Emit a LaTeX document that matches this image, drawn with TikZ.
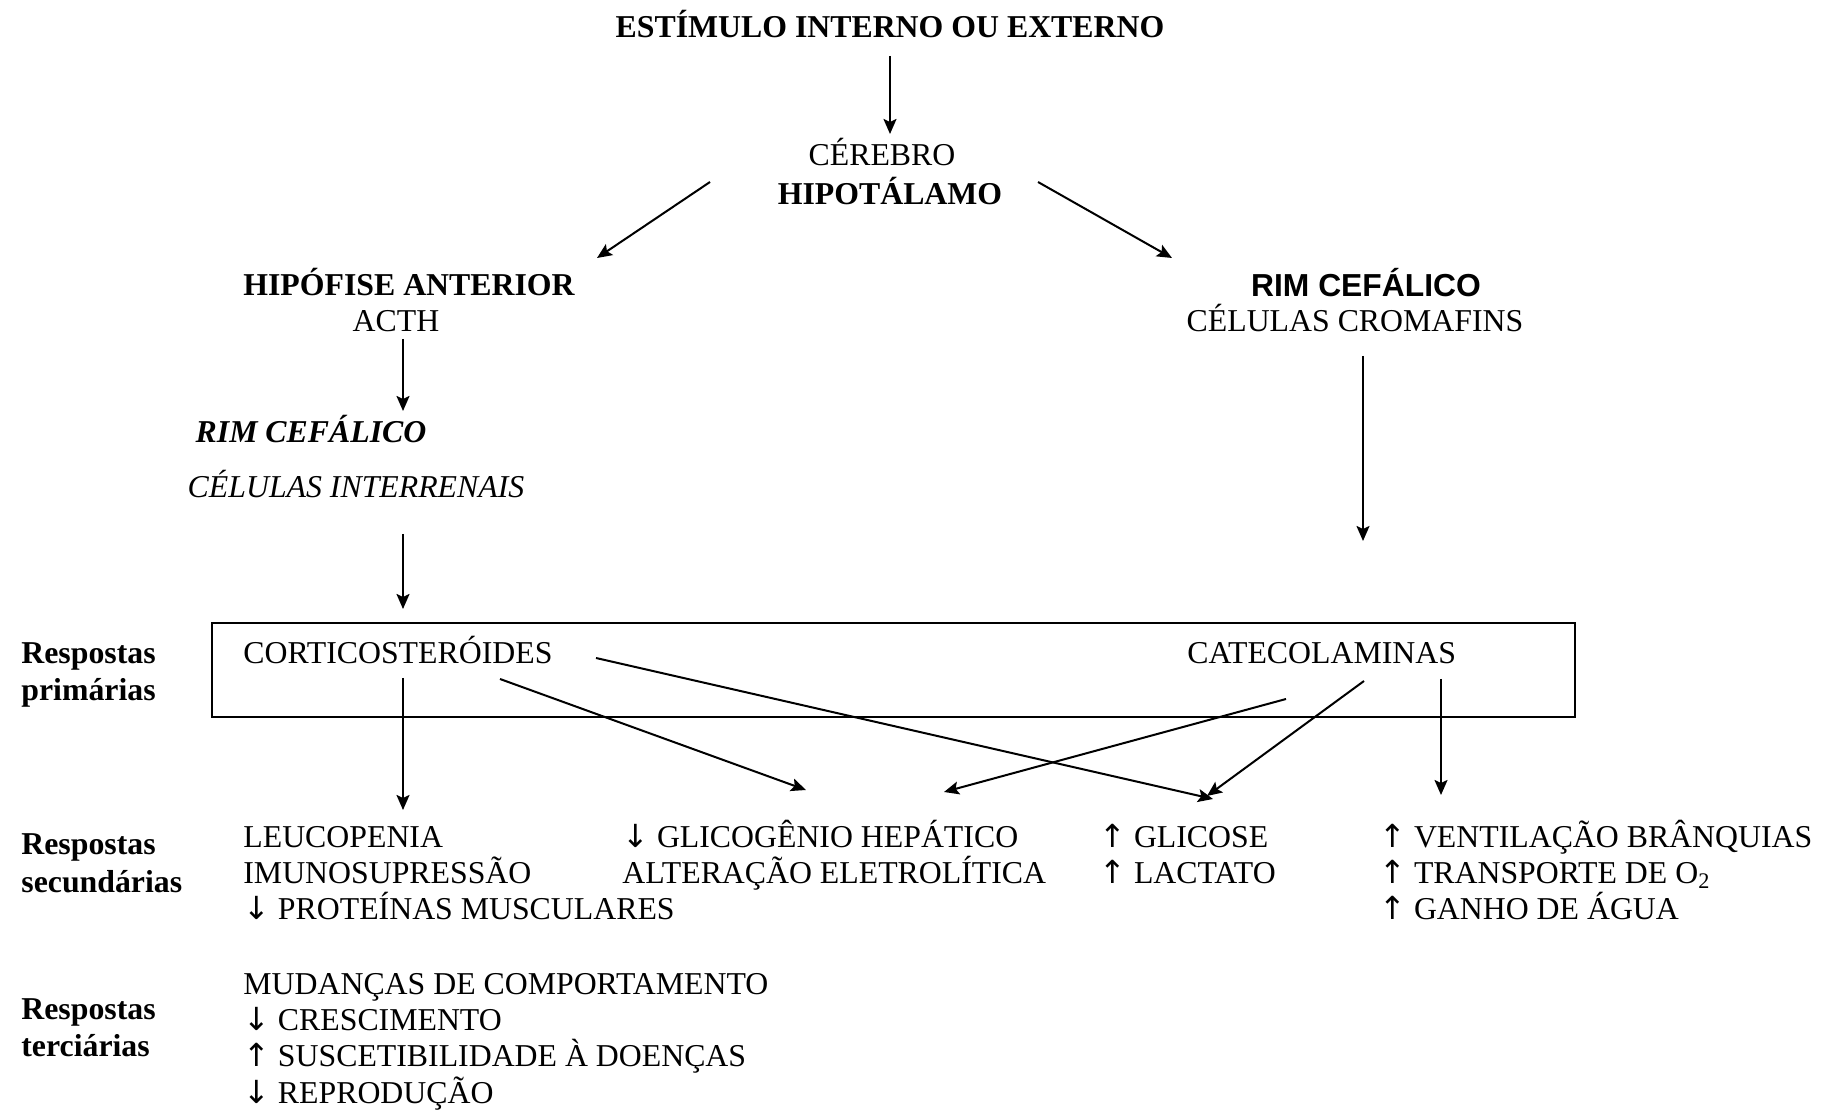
\documentclass[tikz,border=0pt]{standalone}
\usepackage{fontspec}
\setmainfont{Liberation Serif}
\newfontfamily\sansfam{Liberation Sans}
\newfontfamily\arrfam{DejaVu Sans}
\newcommand{\myup}{{\arrfam ↑}}
\newcommand{\mydn}{{\arrfam ↓}}
\usetikzlibrary{arrows.meta}
\begin{document}
\begin{tikzpicture}[x=0.5pt,y=-0.5pt,
  txt/.style={inner sep=0pt, font=\fontsize{15.9}{18}\selectfont},
  lt/.style={txt, anchor=base west},
  ct/.style={txt, anchor=base},
  arr/.style={-{Stealth[length=7.5pt,width=6.5pt,inset=1.5pt]}, line width=1pt},
  boxst/.style={draw, line width=1pt, inner sep=0pt, minimum width=681.75pt, minimum height=47pt}
]
\useasboundingbox (0,0) rectangle (1832,1111);

% top chain
\node[ct] (stim) at (890,37.5) {\bfseries ESTÍMULO INTERNO OU EXTERNO};
\node[ct] (cer) at (882,166) {CÉREBRO};
\node[ct] (hip) at (890,205) {\bfseries HIPOTÁLAMO};
\node[ct] (hipo) at (409,295.5) {\bfseries HIPÓFISE ANTERIOR};
\node[ct] (acth) at (396,331.5) {ACTH};
\node[ct] (rimi) at (311,442.5) {\bfseries\itshape RIM CEFÁLICO};
\node[ct] (inter) at (356,497.5) {\itshape CÉLULAS INTERRENAIS};
\node[ct] (rims) at (1366,296.5) {\sansfam\bfseries RIM CEFÁLICO};
\node[ct] (crom) at (1355,331.5) {CÉLULAS CROMAFINS};

% box
\node[boxst] (box) at (893.25,670) {};
\node[lt] (rp1) at (21,663.5) {\bfseries Respostas};
\node[lt] (rp2) at (21,701) {\bfseries primárias};
\node[lt] (cort) at (243,663.5) {CORTICOSTERÓIDES};
\node[lt] (cate) at (1187,663.5) {CATECOLAMINAS};

% secondary
\node[lt] (rs1) at (21,855) {\bfseries Respostas};
\node[lt] (rs2) at (21,892.5) {\bfseries secundárias};
\node[lt] (s11) at (243,847.5) {LEUCOPENIA};
\node[lt] (s12) at (243,883.5) {IMUNOSUPRESSÃO};
\node[lt] (s13) at (243,919.5) {\mydn\ PROTEÍNAS MUSCULARES};
\node[lt] (s21) at (622,847.5) {\mydn\ GLICOGÊNIO HEPÁTICO};
\node[lt] (s22) at (622,883.5) {ALTERAÇÃO ELETROLÍTICA};
\node[lt] (s31) at (1099,847.5) {\myup\ GLICOSE};
\node[lt] (s32) at (1099,883.5) {\myup\ LACTATO};
\node[lt] (s41) at (1379,847.5) {\myup\ VENTILAÇÃO BRÂNQUIAS};
\node[lt] (s42) at (1379,883.5) {\myup\ TRANSPORTE DE O\textsubscript{2}};
\node[lt] (s43) at (1379,919.5) {\myup\ GANHO DE ÁGUA};

% tertiary
\node[lt] (rt1) at (21,1019) {\bfseries Respostas};
\node[lt] (rt2) at (21,1056) {\bfseries terciárias};
\node[lt] (t1) at (243,994.5) {MUDANÇAS DE COMPORTAMENTO};
\node[lt] (t2) at (243,1030.5) {\mydn\ CRESCIMENTO};
\node[lt] (t3) at (243,1066.5) {\myup\ SUSCETIBILIDADE À DOENÇAS};
\node[lt] (t4) at (243,1103.5) {\mydn\ REPRODUÇÃO};

% arrow end points
\coordinate (a1s) at (890,56);   \coordinate (a1e) at (890,134);
\coordinate (a2s) at (710,182);  \coordinate (a2e) at (597,258);
\coordinate (a3s) at (1038,182); \coordinate (a3e) at (1172,258);
\coordinate (a4s) at (403,339);  \coordinate (a4e) at (403,411);
\coordinate (a5s) at (403,534);  \coordinate (a5e) at (403,609);
\coordinate (a6s) at (1363,356); \coordinate (a6e) at (1363,541);
\coordinate (a7s) at (403,678);  \coordinate (a7e) at (403,810);
\coordinate (a8s) at (500,679);  \coordinate (a8e) at (806,790);
\coordinate (a9s) at (596,658);  \coordinate (a9e) at (1213,799);
\coordinate (b1s) at (1286,699); \coordinate (b1e) at (944,792);
\coordinate (b2s) at (1364,681); \coordinate (b2e) at (1207,796);
\coordinate (b3s) at (1441,679); \coordinate (b3e) at (1441,795);

\draw[arr] (a1s) -- (a1e);
\draw[arr] (a2s) -- (a2e);
\draw[arr] (a3s) -- (a3e);
\draw[arr] (a4s) -- (a4e);
\draw[arr] (a5s) -- (a5e);
\draw[arr] (a6s) -- (a6e);
\draw[arr] (a7s) -- (a7e);
\draw[arr] (a8s) -- (a8e);
\draw[arr] (a9s) -- (a9e);
\draw[arr] (b1s) -- (b1e);
\draw[arr] (b2s) -- (b2e);
\draw[arr] (b3s) -- (b3e);
\end{tikzpicture}
\end{document}
